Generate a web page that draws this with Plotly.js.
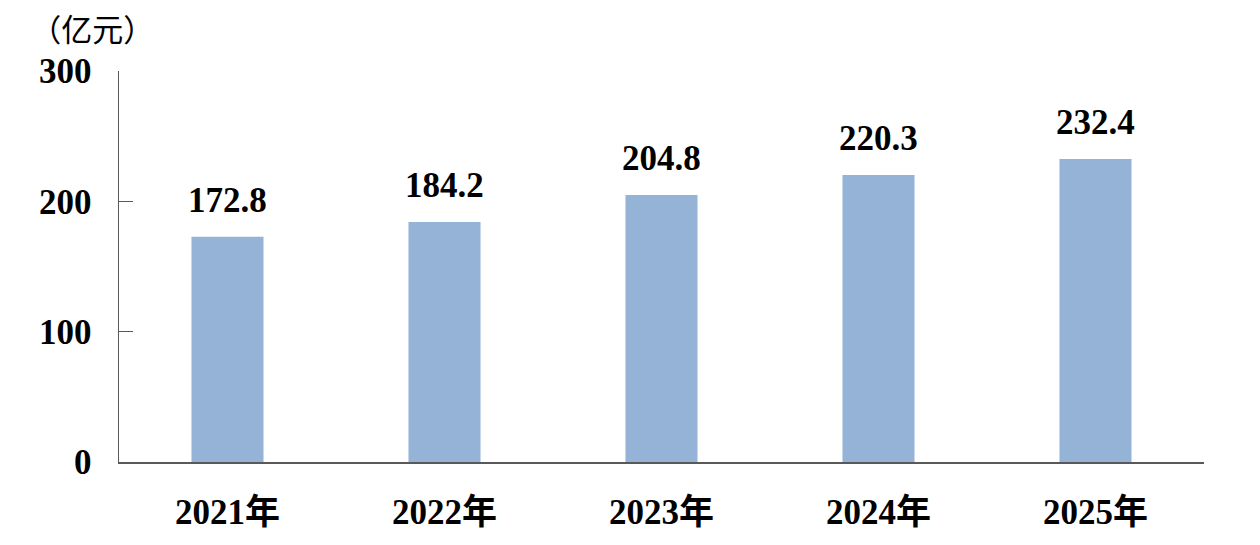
<!DOCTYPE html>
<html><head><meta charset="utf-8">
<script src="https://cdn.plot.ly/plotly-3.0.1.min.js"></script>
<style>html,body{margin:0;padding:0;background:#fff}#chart{width:1260px;height:545px}</style>
</head><body><div id="chart"></div>
<script>
const years = ['2021年','2022年','2023年','2024年','2025年'];
const values = [172.8, 184.2, 204.8, 220.3, 232.4];
const valueLabels = ['172.8','184.2','204.8','220.3','232.4'];
const yTicks = [0, 100, 200, 300];
const unitLabel = '（亿元）';

const serif = '"Liberation Serif", "Times New Roman", "Noto Sans CJK SC", serif';

const trace = {
  type: 'bar', x: years, y: values,
  marker: {color: '#95B3D7', line: {width: 0}},
  hoverinfo: 'none', showlegend: false
};

const annotations = years.map((c, i) => ({
  x: c, y: values[i], xref: 'x', yref: 'y',
  text: valueLabels[i], showarrow: false,
  yanchor: 'bottom', yshift: 15,
  font: {family: serif, size: 35, color: '#000', weight: 'bold'}
}));

const layout = {
  width: 1260, height: 545,
  margin: {l: 119, r: 56, t: 71, b: 83},
  paper_bgcolor: '#fff', plot_bgcolor: '#fff',
  bargap: 0.668,
  title: {text: unitLabel, xref: 'container', yref: 'container', x: 0.024, xanchor: 'left', y: 0.945, yanchor: 'middle',
    font: {family: '"Noto Sans CJK SC", sans-serif', size: 31, color: '#000'}},
  xaxis: {
    type: 'category', showgrid: false, zeroline: false,
    showline: true, linecolor: '#595959', linewidth: 1.5,
    ticks: '', ticklabelstandoff: 18,
    tickfont: {family: serif, size: 35, color: '#000', weight: 'bold'}
  },
  yaxis: {
    range: [0, 300], tickvals: yTicks, ticktext: yTicks.map(String),
    showgrid: false, zeroline: false,
    showline: true, linecolor: '#595959', linewidth: 1.5,
    ticks: 'inside', ticklen: 14, tickcolor: '#595959', tickwidth: 1.5,
    ticklabelstandoff: 19,
    tickfont: {family: serif, size: 35, color: '#000', weight: 'bold'}
  },
  annotations: annotations
};

Plotly.newPlot('chart', [trace], layout, {displayModeBar: false, staticPlot: true});
</script></body></html>
